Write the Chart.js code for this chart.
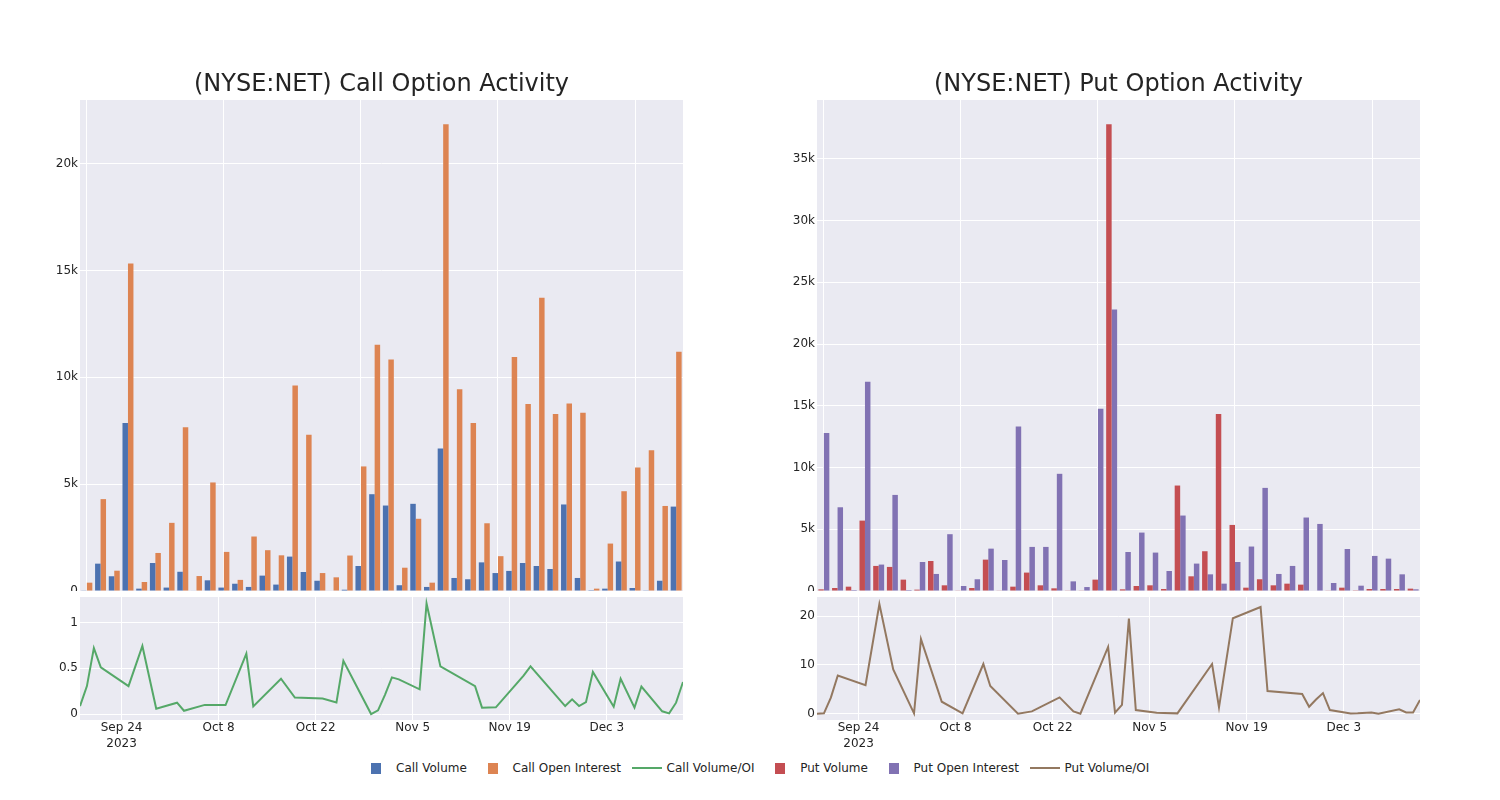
<!DOCTYPE html>
<html lang="en">
<head>
<meta charset="UTF-8">
<title>(NYSE:NET) Option Activity</title>
<script src="https://cdn.jsdelivr.net/npm/chart.js@4.4.0/dist/chart.umd.min.js"></script>
<style>
  body { margin: 0; background: #fff; font-family: 'DejaVu Sans', sans-serif; }
  #page { position: relative; width: 1500px; height: 800px; }
  canvas { position: absolute; }
  #legend { position: absolute; left: 356px; top: 760px; height: 16px; display: flex; font-size: 12px; color: #242424; }
  .item { display: flex; align-items: center; margin-right: 5.7px; }
  .sym { width: 40px; height: 16px; position: relative; }
  .sym.bar::after { content: ''; position: absolute; left: 15px; top: 2.5px; width: 10px; height: 11px; background: var(--c); }
  .sym.line::after { content: ''; position: absolute; left: 5px; top: 7px; width: 30px; height: 2px; background: var(--c); }
</style>
</head>
<body>
<div id="page">
  <canvas id="callBars" width="763" height="531" style="left:0;top:60px"></canvas>
  <canvas id="callRatio" width="763" height="168" style="left:0;top:592px"></canvas>
  <canvas id="putBars" width="763" height="531" style="left:737px;top:60px"></canvas>
  <canvas id="putRatio" width="763" height="168" style="left:737px;top:592px"></canvas>
  <div id="legend"></div>
</div>

<script>
// trading days shown (one bar pair / one line point each)
const dates = [
  '2023-09-18', '2023-09-19', '2023-09-20', '2023-09-21', '2023-09-25', '2023-09-27', '2023-09-29',
  '2023-10-02', '2023-10-03', '2023-10-06', '2023-10-09', '2023-10-12', '2023-10-13', '2023-10-17',
  '2023-10-19', '2023-10-23', '2023-10-25', '2023-10-26', '2023-10-30', '2023-10-31',
  '2023-11-01', '2023-11-02', '2023-11-03', '2023-11-06', '2023-11-07', '2023-11-09', '2023-11-14',
  '2023-11-15', '2023-11-17', '2023-11-21', '2023-11-22', '2023-11-27', '2023-11-28', '2023-11-29',
  '2023-11-30', '2023-12-01', '2023-12-04', '2023-12-05', '2023-12-07', '2023-12-08', '2023-12-11',
  '2023-12-12', '2023-12-13', '2023-12-14'
];

const callVolume = [30, 1280, 690, 7860, 110, 1310, 160, 900, 25, 500, 160, 340, 190, 720, 300, 1610, 890, 480, 0, 60,
  1170, 4530, 4000, 270, 4080, 190, 6670, 610, 550, 1340, 840, 940, 1310, 1170, 1030, 4050, 610, 40, 110, 1380,
  140, 15, 480, 3950];
const callOpenInterest = [390, 4300, 950, 15330, 420, 1780, 3190, 7660, 700, 5080, 1830, 520, 2550, 1910, 1670, 9620, 7310, 840, 640, 1660,
  5830, 11520, 10840, 1090, 3380, 390, 21840, 9440, 7860, 3170, 1630, 10950, 8750, 13720, 8280, 8780, 8340, 110, 2220, 4670,
  5780, 6590, 3980, 11200];
const callRatio = [0.087, 0.305, 0.72, 0.51, 0.305, 0.742, 0.058, 0.124, 0.036, 0.10, 0.098, 0.66, 0.084, 0.385, 0.18, 0.17, 0.127, 0.58, 0.0, 0.04,
  0.21, 0.40, 0.378, 0.27, 1.207, 0.52, 0.305, 0.07, 0.073, 0.42, 0.52, 0.087, 0.16, 0.087, 0.13, 0.46, 0.08, 0.385, 0.07, 0.30,
  0.03, 0.007, 0.124, 0.35];

const putVolume = [135, 243, 351, 5700, 2030, 1950, 920, 110, 2430, 460, 30, 243, 2540, 50, 351, 1490, 460, 216, 30, 30,
  920, 37790, 135, 405, 460, 160, 8540, 1190, 3220, 14330, 5350, 270, 950, 460, 595, 515, 40, 30, 270, 20,
  160, 160, 160, 190];
const putOpenInterest = [12790, 6780, 80, 16950, 2140, 7780, 80, 2350, 1380, 4600, 405, 950, 3430, 2510, 13330, 3570, 3570, 9490, 780, 320,
  14760, 22790, 3160, 4730, 3110, 1620, 6110, 2220, 1350, 595, 2350, 3600, 8350, 1380, 2030, 5950, 5430, 650, 3400, 430,
  2840, 2620, 1350, 135];
const putRatio = [0, 0.07, 3.3, 7.85, 5.87, 22.5, 9.1, 0.07, 15.3, 2.46, 0.07, 10.2, 5.67, 0, 0.48, 3.35, 0.48, 0, 13.7, 0.2,
  1.8, 19.5, 0.75, 0.2, 0.15, 0.07, 10.2, 1.3, 19.6, 21.9, 4.64, 4.03, 1.43, 2.9, 4.23, 0.75, 0.05, 0.1, 0.27, 0,
  0.9, 0.27, 0.27, 2.8];

// axis ticks
const xTickDates = ['2023-09-24', '2023-10-08', '2023-10-22', '2023-11-05', '2023-11-19', '2023-12-03'];
const callBarTicks = [0, 5000, 10000, 15000, 20000];
const putBarTicks = [0, 5000, 10000, 15000, 20000, 25000, 30000, 35000];
const callRatioTicks = [0, 0.5, 1];
const putRatioTicks = [0, 10, 20];

const MONTHS = ['Jan', 'Feb', 'Mar', 'Apr', 'May', 'Jun', 'Jul', 'Aug', 'Sep', 'Oct', 'Nov', 'Dec'];
const DAY = 864e5;
const toDay = s => Date.parse(s + 'T00:00:00Z') / DAY;

Chart.defaults.font.family = "'DejaVu Sans', sans-serif";
Chart.defaults.font.size = 12;
Chart.defaults.color = '#242424';
Chart.defaults.animation = false;

// grey plot background like the seaborn template
const plotBg = {
  id: 'plotBg',
  beforeDraw(chart) {
    const { ctx, chartArea: a } = chart;
    ctx.save();
    ctx.fillStyle = '#EAEAF2';
    ctx.fillRect(a.left, a.top, a.right - a.left, a.bottom - a.top);
    ctx.restore();
  }
};

const fixTicks = values => scale => { scale.ticks = values.map(v => ({ value: v })); };
const kLabel = v => v === 0 ? '0' : (v / 1000) + 'k';
const dateLabel = (v, i) => {
  const d = new Date(v * DAY);
  const s = MONTHS[d.getUTCMonth()] + ' ' + d.getUTCDate();
  return i === 0 ? [s, String(d.getUTCFullYear())] : s;
};

function yAxis(min, max, ticks, fmt) {
  return {
    min: min, max: max,
    afterBuildTicks: fixTicks(ticks),
    ticks: { callback: fmt, padding: 2 },
    grid: { color: '#fff', drawTicks: false },
    border: { display: false },
    afterFit: s => { s.width = 80; s.paddingTop = 0; s.paddingBottom = 0; }
  };
}

// empty right-hand axis, same width as the left one, so the title sits centred over the plot
const spacerAxis = {
  position: 'right',
  grid: { display: false },
  ticks: { display: false },
  border: { display: false },
  afterFit: s => { s.width = 80; s.paddingTop = 0; s.paddingBottom = 0; }
};

function barChart(id, title, vol, oi, volColor, oiColor, names, yMax, yTicks) {
  const bar = (label, data, color) => ({
    label: label, data: data, backgroundColor: color,
    borderWidth: 0, categoryPercentage: 0.8, barPercentage: 1
  });
  new Chart(document.getElementById(id), {
    type: 'bar',
    data: { labels: dates, datasets: [bar(names[0], vol, volColor), bar(names[1], oi, oiColor)] },
    options: {
      responsive: false,
      plugins: {
        legend: { display: false },
        tooltip: { enabled: false },
        title: {
          display: true, text: title, color: '#242424',
          font: { size: 24, weight: 'normal' },
          padding: { top: 10, bottom: 1.2 }
        }
      },
      scales: {
        x: {
          ticks: { display: false, autoSkip: false },
          grid: { offset: false, drawTicks: false, color: c => c.index % 10 === 0 ? '#fff' : 'rgba(0,0,0,0)' },
          border: { display: false },
          afterFit: s => { s.height = 0; s.paddingLeft = 0; s.paddingRight = 0; }
        },
        y: yAxis(0, yMax, yTicks, kLabel),
        spacer: spacerAxis
      }
    },
    plugins: [plotBg]
  });
}

function ratioChart(id, ratio, color, label, yMin, yMax, yTicks) {
  new Chart(document.getElementById(id), {
    type: 'line',
    data: {
      datasets: [{
        label: label,
        data: dates.map((d, i) => ({ x: toDay(d), y: ratio[i] })),
        borderColor: color, borderWidth: 2, pointRadius: 0, tension: 0, fill: false
      }]
    },
    options: {
      responsive: false,
      layout: { padding: { top: 5, right: 80 } },
      plugins: { legend: { display: false }, tooltip: { enabled: false } },
      scales: {
        x: {
          type: 'linear',
          min: toDay(dates[0]), max: toDay(dates[dates.length - 1]),
          afterBuildTicks: fixTicks(xTickDates.map(toDay)),
          ticks: { callback: dateLabel, padding: 0, maxRotation: 0, autoSkip: false, font: { lineHeight: 1.35 } },
          grid: { color: '#fff', drawTicks: false },
          border: { display: false },
          afterFit: s => { s.height = 40; s.paddingLeft = 0; s.paddingRight = 0; }
        },
        y: yAxis(yMin, yMax, yTicks, v => String(v))
      }
    },
    plugins: [plotBg]
  });
}

barChart('callBars', '(NYSE:NET) Call Option Activity', callVolume, callOpenInterest,
  '#4C72B0', '#DD8452', ['Call Volume', 'Call Open Interest'], 22980, callBarTicks);
ratioChart('callRatio', callRatio, '#55A868', 'Call Volume/OI', -0.065, 1.277, callRatioTicks);
barChart('putBars', '(NYSE:NET) Put Option Activity', putVolume, putOpenInterest,
  '#C44E52', '#8172B3', ['Put Volume', 'Put Open Interest'], 39760, putBarTicks);
ratioChart('putRatio', putRatio, '#937860', 'Put Volume/OI', -1.29, 23.95, putRatioTicks);

// shared legend under both panels
const legendItems = [
  ['Call Volume', '#4C72B0', 'bar'], ['Call Open Interest', '#DD8452', 'bar'], ['Call Volume/OI', '#55A868', 'line'],
  ['Put Volume', '#C44E52', 'bar'], ['Put Open Interest', '#8172B3', 'bar'], ['Put Volume/OI', '#937860', 'line']
];
const legend = document.getElementById('legend');
legendItems.forEach(([name, color, kind]) => {
  const item = document.createElement('span');
  item.className = 'item';
  item.innerHTML = '<span class="sym ' + kind + '" style="--c:' + color + '"></span><span>' + name + '</span>';
  legend.appendChild(item);
});
</script>
</body>
</html>
